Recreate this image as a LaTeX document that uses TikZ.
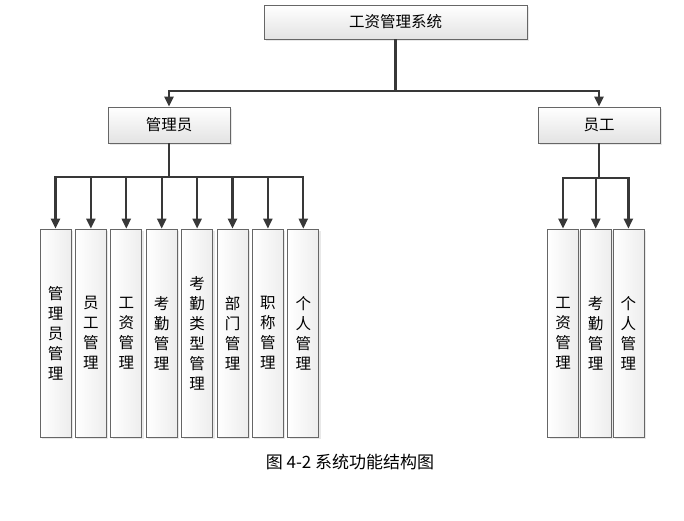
\documentclass[tikz,border=0pt]{standalone}
\usepackage{fontspec}
\setmainfont{Noto Sans CJK SC}
\usetikzlibrary{arrows.meta, positioning, shadows}

\begin{document}
\begin{tikzpicture}[
        x = 1pt, y = -1pt,
        on grid,
        >= {Triangle[width = 9pt, length = 10pt]},
        link/.style = {->, draw = black!78, line width = 2.2pt},
        box/.style = {draw = gray!80!black, line width = 0.7pt,
                      top color = white, bottom color = gray!22,
                      drop shadow = {shadow xshift = 2pt, shadow yshift = -2pt, fill = gray!35},
                      inner sep = 0pt, font = \fontsize{15.5}{18}\selectfont},
        vbox/.style = {box, left color = white, right color = gray!14,
                      minimum width = 31pt, minimum height = 208pt,
                      align = center, font = \fontsize{15.5}{20}\selectfont}
    ]

      \useasboundingbox (0,0) rectangle (684,520);

      % top level
      \node[box, minimum width = 263pt, minimum height = 34pt] (sys) at (395.5,22) {工资管理系统};

      \node[box, minimum width = 122pt, minimum height = 36pt] (adm) at (169,125) {管理员};
      \node[box, minimum width = 122pt, minimum height = 36pt] (emp) at (599,125) {员工};

      % administrator functions
      \node[vbox] (a1) at (55.5,333) {管\\理\\员\\管\\理};
      \node[vbox] (a2) [right = 35.4pt of a1] {员\\工\\管\\理};
      \node[vbox] (a3) [right = 35.4pt of a2] {工\\资\\管\\理};
      \node[vbox] (a4) [right = 35.4pt of a3] {考\\勤\\管\\理};
      \node[vbox] (a5) [right = 35.4pt of a4] {考\\勤\\类\\型\\管\\理};
      \node[vbox] (a6) [right = 35.4pt of a5] {部\\门\\管\\理};
      \node[vbox] (a7) [right = 35.4pt of a6] {职\\称\\管\\理};
      \node[vbox] (a8) [right = 35.4pt of a7] {个\\人\\管\\理};

      % employee functions
      \node[vbox] (e1) at (563,333) {工\\资\\管\\理};
      \node[vbox] (e2) [right = 32.7pt of e1] {考\\勤\\管\\理};
      \node[vbox] (e3) [right = 32.7pt of e2] {个\\人\\管\\理};

      \draw[link] (sys.south) -- ++(0,52) -| (adm.north);
      \draw[link] (sys.south) -- ++(0,52) -| (emp.north);

      \foreach \n in {a1, a2, a3, a4, a5, a6, a7, a8}
          \draw[link] (adm.south) -- ++(0,34) -| (\n.north);

      \foreach \n in {e1, e2, e3}
          \draw[link] (emp.south) -- ++(0,35) -| (\n.north);

      \node[font = \fontsize{17}{20}\selectfont] (cap) at (350,462) {图 4-2 系统功能结构图};

\end{tikzpicture}
\end{document}
